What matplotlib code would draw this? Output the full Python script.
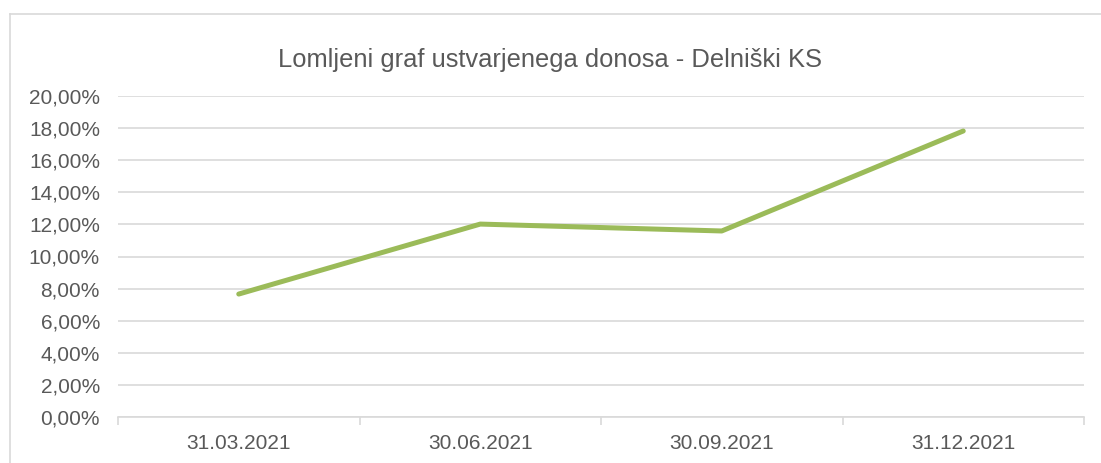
import matplotlib
matplotlib.use("Agg")
import matplotlib.pyplot as plt
from matplotlib.lines import Line2D
from matplotlib.ticker import FuncFormatter, FixedLocator

categories = ["31.03.2021", "30.06.2021", "30.09.2021", "31.12.2021"]
returns = [7.66, 12.02, 11.59, 17.82]
title = "Lomljeni graf ustvarjenega donosa - Delniški KS"
y_ticks = [0, 2, 4, 6, 8, 10, 12, 14, 16, 18, 20]

W, H = 1101, 463
plt.rcParams['font.family'] = ['Liberation Sans', 'DejaVu Sans']
text_color = "#595959"
grid_color = "#D9D9D9"

fig = plt.figure(figsize=(W / 100, H / 100), dpi=100)
fig.patch.set_facecolor("white")

# outer chart frame (left and top visible)
fig.add_artist(Line2D([9.5 / W, 9.5 / W], [0, 1 - 14 / H], color=grid_color, lw=1.2))
fig.add_artist(Line2D([9.5 / W, 1], [1 - 14 / H, 1 - 14 / H], color=grid_color, lw=1.2))

left, right, top, bottom = 118, 1084, 96, 417
ax = fig.add_axes([left / W, 1 - bottom / H, (right - left) / W, (bottom - top) / H])

x = list(range(len(categories)))
ax.plot(x, returns, color="#9BBB59", lw=3.6, solid_capstyle="round", solid_joinstyle="round", zorder=3)

ax.set_xlim(-0.5, len(categories) - 0.5)
ax.set_ylim(0, 20)
ax.set_yticks(y_ticks)
ax.yaxis.set_major_formatter(FuncFormatter(lambda v, p: f"{v:.2f}".replace(".", ",") + "%"))
ax.grid(axis="y", color=grid_color, lw=1.2, zorder=0)
ax.set_axisbelow(True)

ax.set_xticks(x)
ax.set_xticklabels(categories)
ax.xaxis.set_minor_locator(FixedLocator([i - 0.5 for i in range(len(categories) + 1)]))
ax.tick_params(axis="x", which="major", length=0, pad=12, labelsize=15, labelcolor=text_color)
ax.tick_params(axis="x", which="minor", length=6, width=1.2, color=grid_color, direction="out")
ax.tick_params(axis="y", length=0, pad=13, labelsize=15, labelcolor=text_color)

for s in ["top", "right", "left"]:
    ax.spines[s].set_visible(False)
ax.spines["bottom"].set_color(grid_color)
ax.spines["bottom"].set_linewidth(1.2)

fig.text(0.5, 1 - 60 / H, title, ha="center", va="center", fontsize=18.4, color=text_color)

fig.savefig("out.png", dpi=100)
